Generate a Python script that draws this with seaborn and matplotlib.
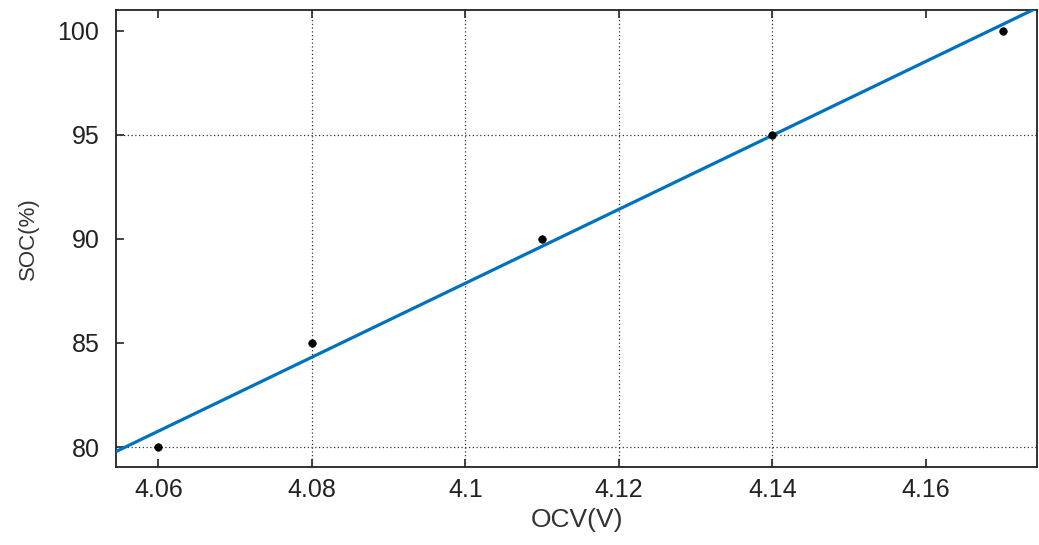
import seaborn as sns
import matplotlib.pyplot as plt
import pandas as pd

# measured points
ocv = [4.06, 4.08, 4.11, 4.14, 4.17]
soc = [80, 85, 90, 95, 100]
xticks = [4.06, 4.08, 4.1, 4.12, 4.14, 4.16]
xtick_labels = ['4.06', '4.08', '4.1', '4.12', '4.14', '4.16']
yticks = [80, 85, 90, 95, 100]
# grid lines that are visible in the original
vgrid = [4.08, 4.1, 4.12, 4.14]
hgrid = [80, 95]

df = pd.DataFrame({'OCV': ocv, 'SOC': soc})

sns.set_style('ticks')
plt.rcParams['font.family'] = ['Liberation Sans', 'DejaVu Sans']
plt.rcParams['xtick.direction'] = 'in'
plt.rcParams['ytick.direction'] = 'in'

fig = plt.figure(figsize=(10.39, 5.45), dpi=100)
ax = fig.add_axes([0.1117, 0.1431, 0.8865, 0.8386])
ax.set_xlim(4.0545, 4.1745)
ax.set_ylim(79.04, 101.0)

for x in vgrid:
    ax.axvline(x, color='#333333', lw=0.9, ls=(0, (1, 2)), zorder=1)
for y in hgrid:
    ax.axhline(y, color='#333333', lw=0.9, ls=(0, (1, 2)), zorder=1)

# linear fit across the full x range
sns.regplot(data=df, x='OCV', y='SOC', ax=ax, scatter=False, ci=None,
            truncate=False, color='#0072BD', line_kws={'lw': 2.3, 'zorder': 3})
sns.scatterplot(data=df, x='OCV', y='SOC', ax=ax, color='black', s=30,
                marker='o', edgecolor='black', zorder=4)

ax.set_xlim(4.0545, 4.1745)
ax.set_ylim(79.04, 101.0)
ax.set_xticks(xticks)
ax.set_xticklabels(xtick_labels)
ax.set_yticks(yticks)
ax.tick_params(axis='both', labelsize=18, colors='#222222', length=6, width=1.2,
               top=True, right=False)
ax.tick_params(axis='x', pad=8)
ax.tick_params(axis='y', pad=12)
for s in ax.spines.values():
    s.set_linewidth(1.3)
    s.set_color('#222222')
ax.set_xlabel('OCV(V)', fontsize=19, color='#333333', labelpad=4)
ax.set_ylabel('SOC(%)', fontsize=16, color='#333333', labelpad=13)

fig.savefig('out.png', dpi=100)
